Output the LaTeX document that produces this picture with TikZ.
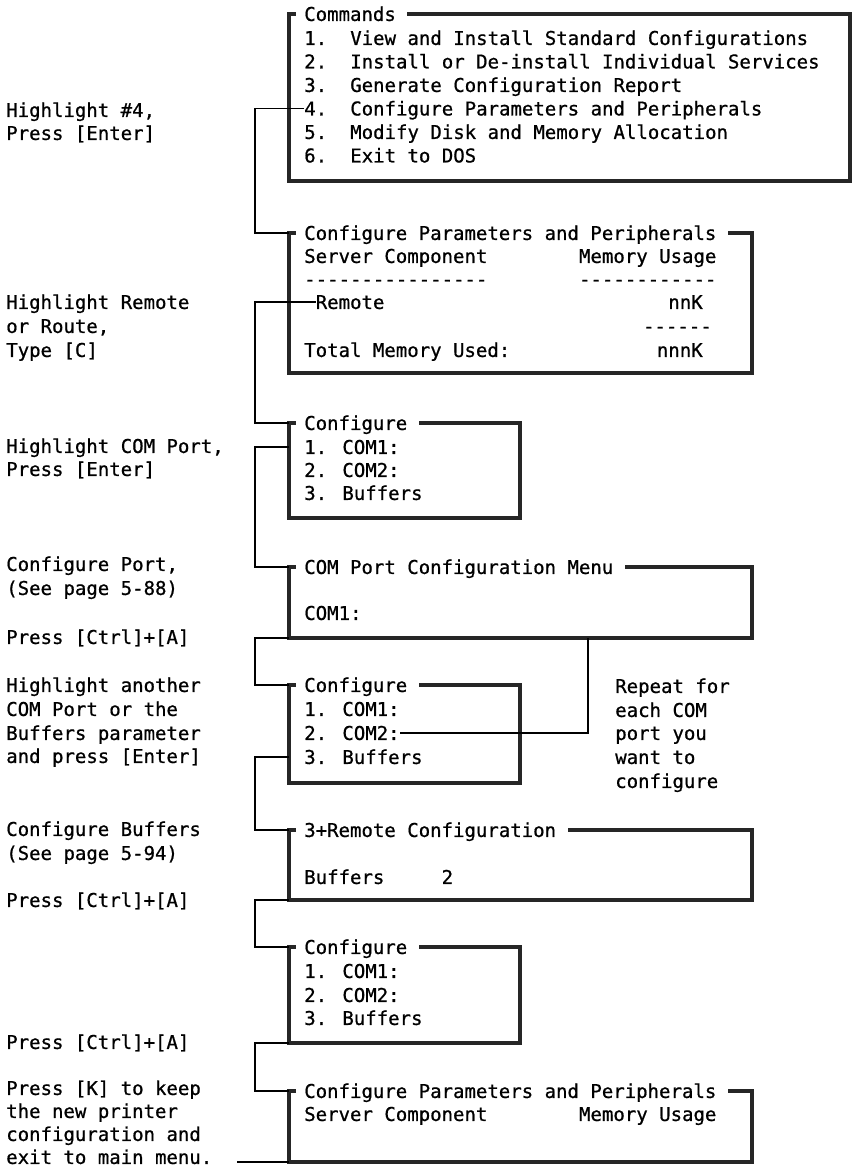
\documentclass[tikz,border=0pt]{standalone}
\usepackage{fontspec}
\newfontfamily\termfont[FakeBold=0.8]{DejaVu Sans Mono}
\usetikzlibrary{fit}

% Frame of a text-mode menu window: corner stub, sides, and the top rule after the title
\newcommand\menuframe[2]{%
  \draw[frame] ([xshift=5pt]#1.north west) -- (#1.north west) -- (#1.south west)
    -- (#1.south east) -- (#1.north east) -- ([xshift=8.5pt]#2.east |- #1.north);}

\begin{document}
\begin{tikzpicture}[x=0.75pt,y=-0.75pt,
  txt/.style={anchor=west, inner sep=0pt, text height=10.4pt, text depth=0pt,
              font=\termfont\fontsize{14.26}{17}\selectfont},
  rtxt/.style={txt, anchor=east},
  area/.style={inner sep=0pt, outer sep=0pt},
  frame/.style={line width=2.8pt, draw=black!85, line join=miter},
  conn/.style={line width=1.1pt, draw=black}]
\useasboundingbox (0,0) rectangle (858,1167);

% ---------- window areas ----------
\node[area, fit={(289,14) (850,181)}]    (b1) {};
\node[area, fit={(289,233) (752,373)}]   (b2) {};
\node[area, fit={(289,423) (520,518)}]   (b3) {};
\node[area, fit={(289,567) (752,638)}]   (b4) {};
\node[area, fit={(289,685) (520,783)}]   (b5) {};
\node[area, fit={(289,830) (752,900)}]   (b6) {};
\node[area, fit={(289,947) (520,1043)}]  (b7) {};
\node[area, fit={(289,1091) (752,1162)}] (b8) {};
\coordinate (spine) at (255,0);
\coordinate (loopx) at (588,0);
\coordinate (exitend) at (237,1162);

% ---------- Commands ----------
\node[txt] (t1) at (304,14) {Commands};
\node[txt] (c1n) at (304,38)    {1.};
\node[txt] (c1t) at (350,38)    {View and Install Standard Configurations};
\node[txt] (c2n) at (304,61.5)  {2.};
\node[txt] (c2t) at (350,61.5)  {Install or De-install Individual Services};
\node[txt] (c3n) at (304,85)    {3.};
\node[txt] (c3t) at (350,85)    {Generate Configuration Report};
\node[txt] (c4n) at (304,108.5) {4.};
\node[txt] (c4t) at (350,108.5) {Configure Parameters and Peripherals};
\node[txt] (c5n) at (304,132)   {5.};
\node[txt] (c5t) at (350,132)   {Modify Disk and Memory Allocation};
\node[txt] (c6n) at (304,155.5) {6.};
\node[txt] (c6t) at (350,155.5) {Exit to DOS};
\menuframe{b1}{t1}

% ---------- Configure Parameters and Peripherals ----------
\node[txt] (t2) at (304,233) {Configure Parameters and Peripherals};
\node[txt] (p2a) at (304,256) {Server Component};
\node[txt] (p2b) at (578.8,256) {Memory Usage};
\node[txt] (p2c) at (304,279) {----------------};
\node[txt] (p2d) at (578.8,279) {------------};
\node[txt] (remote) at (315.5,302) {Remote};
\node[rtxt] (p2e) at (703,302) {nnK};
\node[rtxt] (p2f) at (712,326) {------};
\node[txt] (p2g) at (304,350) {Total Memory Used:};
\node[rtxt] (p2h) at (703,350) {nnnK};
\menuframe{b2}{t2}

% ---------- Configure (first) ----------
\node[txt] (t3) at (304,423) {Configure};
\node[txt] (r31) at (304,447) {1. COM1:};
\node[txt] (r32) at (304,470) {2. COM2:};
\node[txt] (r33) at (304,493) {3. Buffers};
\menuframe{b3}{t3}

% ---------- COM Port Configuration Menu ----------
\node[txt] (t4) at (304,567) {COM Port Configuration Menu};
\node[txt] (r41) at (304,613) {COM1:};
\menuframe{b4}{t4}

% ---------- Configure (second) ----------
\node[txt] (t5) at (304,685) {Configure};
\node[txt] (r51) at (304,709) {1. COM1:};
\node[txt] (r52) at (304,733) {2. COM2:};
\node[txt] (r53) at (304,757) {3. Buffers};
\menuframe{b5}{t5}

% ---------- 3+Remote Configuration ----------
\node[txt] (t6) at (304,830) {3+Remote Configuration};
\node[txt] (r61) at (304,877) {Buffers};
\node[txt] (r62) at (441.4,877) {2};
\menuframe{b6}{t6}

% ---------- Configure (third) ----------
\node[txt] (t7) at (304,947) {Configure};
\node[txt] (r71) at (304,971) {1. COM1:};
\node[txt] (r72) at (304,995) {2. COM2:};
\node[txt] (r73) at (304,1018) {3. Buffers};
\menuframe{b7}{t7}

% ---------- Configure Parameters and Peripherals (final) ----------
\node[txt] (t8) at (304,1091) {Configure Parameters and Peripherals};
\node[txt] (r81) at (304,1114) {Server Component};
\node[txt] (r82) at (578.8,1114) {Memory Usage};
\menuframe{b8}{t8}

% ---------- repeat note ----------
\node[txt] (rp1) at (615,686) {Repeat for};
\node[txt] (rp2) at (615,710) {each COM};
\node[txt] (rp3) at (615,733) {port you};
\node[txt] (rp4) at (615,757) {want to};
\node[txt] (rp5) at (615,781) {configure};

% ---------- instructions ----------
\node[txt] (a1) at (6,110)  {Highlight \#4,};
\node[txt] (a2) at (6,133)  {Press [Enter]};
\node[txt] (bb1) at (6,302) {Highlight Remote};
\node[txt] (bb2) at (6,326) {or Route,};
\node[txt] (bb3) at (6,350) {Type [C]};
\node[txt] (cc1) at (6,446) {Highlight COM Port,};
\node[txt] (cc2) at (6,469) {Press [Enter]};
\node[txt] (d1) at (6,564)  {Configure Port,};
\node[txt] (d2) at (6,588)  {(See page 5-88)};
\node[txt] (e1) at (6,637)  {Press [Ctrl]+[A]};
\node[txt] (f1) at (6,685)  {Highlight another};
\node[txt] (f2) at (6,709)  {COM Port or the};
\node[txt] (f3) at (6,733)  {Buffers parameter};
\node[txt] (f4) at (6,756)  {and press [Enter]};
\node[txt] (g1) at (6,829)  {Configure Buffers};
\node[txt] (g2) at (6,853)  {(See page 5-94)};
\node[txt] (h1) at (6,900)  {Press [Ctrl]+[A]};
\node[txt] (i1) at (6,1042) {Press [Ctrl]+[A]};
\node[txt] (j1) at (6,1088) {Press [K] to keep};
\node[txt] (j2) at (6,1111) {the new printer};
\node[txt] (j3) at (6,1134) {configuration and};
\node[txt] (j4) at (6,1157) {exit to main menu.};

% ---------- connectors ----------
\draw[conn] (c4n.west) -- (spine |- c4n.west) -- (spine |- b2.north west) -- (b2.north west);
\draw[conn] (remote.west) -- (spine |- remote.west) -- (spine |- b3.north west) -- (b3.north west);
\draw[conn] (b3.west |- r31.west) -- (spine |- r31.west) -- (spine |- b4.north west) -- (b4.north west);
\draw[conn] (b4.south west) -- (spine |- b4.south west) -- (spine |- b5.north west) -- (b5.north west);
\draw[conn] (b5.west |- r53.west) -- (spine |- r53.west) -- (spine |- b6.north west) -- (b6.north west);
\draw[conn] (b6.south west) -- (spine |- b6.south west) -- (spine |- b7.north west) -- (b7.north west);
\draw[conn] (b7.south west) -- (spine |- b7.south west) -- (spine |- b8.north west) -- (b8.north west);
\draw[conn] (b8.south west) -- (exitend);
\draw[conn] (loopx |- b4.south) -- (loopx |- r52.east) -- (r52.east);
\end{tikzpicture}
\end{document}
